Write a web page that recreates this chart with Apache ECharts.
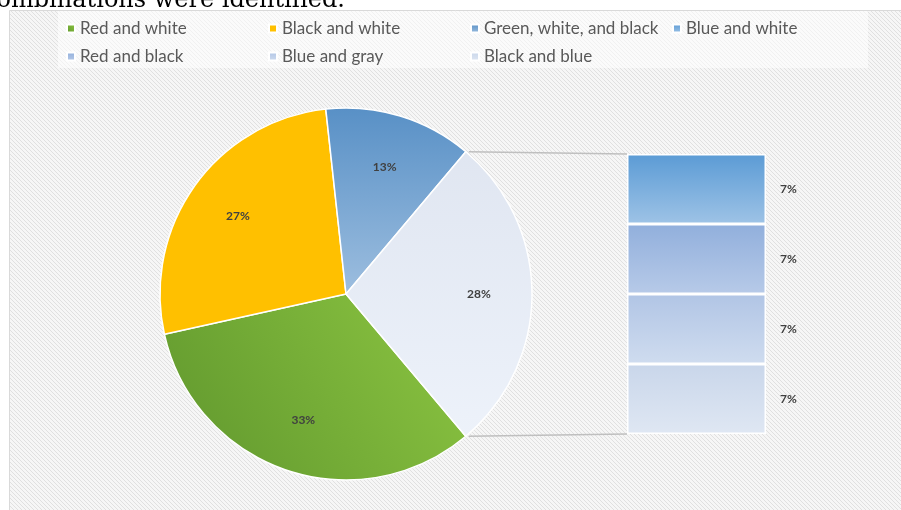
<!DOCTYPE html>
<html>
<head>
<meta charset="utf-8">
<script src="https://cdn.jsdelivr.net/npm/echarts@6/dist/echarts.min.js"></script>
<style>
  html, body { margin: 0; padding: 0; background: #fff; }
  #chart { width: 901px; height: 510px; }
</style>
</head>
<body>
<div id="chart"></div>
<script>
// Colour combinations: main pie plus the split-out "other" column
const legendNames = ['Red and white', 'Black and white', 'Green, white, and black', 'Blue and white',
                     'Red and black', 'Blue and gray', 'Black and blue'];
const pieNames = ['Red and white', 'Black and white', 'Green, white, and black', 'Other'];
const pieValues = [33, 27, 13, 28];
// column segments listed top to bottom
const barNames = ['Blue and white', 'Red and black', 'Blue and gray', 'Black and blue'];
const barValues = [7, 7, 7, 7];

const grad = (x, y, x2, y2, c1, c2) =>
  new echarts.graphic.LinearGradient(x, y, x2, y2, [{ offset: 0, color: c1 }, { offset: 1, color: c2 }]);

const pieColors = [
  grad(1, 0, 0, 1, '#8DC642', '#5F962D'),
  '#FFC000',
  grad(0, 0, 0, 1, '#5890C6', '#9DBEDF'),
  grad(0, 0, 0, 1, '#E0E6F1', '#EDF2FA')
];
const barColors = [
  grad(0, 0, 0, 1, '#5B9BD5', '#9EC3E6'),
  grad(0, 0, 0, 1, '#91AFDC', '#B7CAE8'),
  grad(0, 0, 0, 1, '#B1C5E5', '#CFDCEF'),
  grad(0, 0, 0, 1, '#C9D6EA', '#DFE7F3')
];

const pieCenter = [346, 294];
const pieRadius = 186;
const barGrid = { left: 627, top: 154, width: 139, height: 280 };

const pieTotal = pieValues.reduce((a, b) => a + b, 0);
const otherHalf = pieValues[3] / pieTotal * 180;   // "Other" slice is centred at 3 o'clock
const startAngle = -otherHalf;
const barTotal = barValues.reduce((a, b) => a + b, 0);

// hatched fill for the chart area
const tile = document.createElement('canvas');
tile.width = 4; tile.height = 4;
const tctx = tile.getContext('2d');
tctx.fillStyle = '#F6F6F6';
tctx.fillRect(0, 0, 4, 4);
tctx.fillStyle = '#E0E0E0';
for (let i = 0; i < 4; i++) tctx.fillRect(i, i, 1, 1);

const chart = echarts.init(document.getElementById('chart'), null, { renderer: 'canvas' });

const pieData = pieNames.map((n, i) => ({ name: n, value: pieValues[i], itemStyle: { color: pieColors[i] } }));

// stack from the bottom segment upward
const barSeries = barNames.slice().reverse().map((n) => {
  const i = barNames.indexOf(n);
  return {
    name: n,
    type: 'bar',
    stack: 'other',
    barWidth: '100%',
    data: [barValues[i]],
    itemStyle: { color: barColors[i], borderColor: '#fff', borderWidth: 1.5 },
    label: {
      show: true, position: 'right', distance: 14,
      formatter: '{c}%', color: '#404040', fontFamily: 'Lato', fontWeight: 'bold', fontSize: 12
    },
    emphasis: { disabled: true }
  };
});

const option = {
  backgroundColor: '#ffffff',
  animation: false,
  legend: {
    data: legendNames,
    left: 66, top: 17, width: 830,
    padding: 0,
    itemGap: 5,
    itemWidth: 8, itemHeight: 8,
    icon: 'rect',
    selectedMode: false,
    textStyle: { fontFamily: 'Lato', fontSize: 17, color: '#595959', width: 183, lineHeight: 23 }
  },
  grid: { left: barGrid.left, top: barGrid.top, width: barGrid.width, height: barGrid.height },
  xAxis: { type: 'category', data: ['Other'], show: false, boundaryGap: true },
  yAxis: { type: 'value', min: 0, max: barTotal, show: false },
  series: [
    {
      name: 'Colours',
      type: 'pie',
      center: pieCenter,
      radius: [0, pieRadius],
      startAngle: startAngle,
      clockwise: true,
      data: pieData,
      label: { show: false },
      labelLine: { show: false },
      itemStyle: { borderColor: '#fff', borderWidth: 1.5 },
      emphasis: { disabled: true }
    },
    {
      name: 'Percent labels',
      type: 'pie',
      center: pieCenter,
      radius: [0, 260],
      startAngle: startAngle,
      clockwise: true,
      silent: true,
      data: pieNames.map((n, i) => ({ name: n, value: pieValues[i] })),
      itemStyle: { color: 'rgba(0,0,0,0)' },
      label: {
        show: true, position: 'inside', formatter: '{c}%',
        color: '#404040', fontFamily: 'Lato', fontWeight: 'bold', fontSize: 12
      },
      labelLine: { show: false },
      emphasis: { disabled: true }
    },
    ...barSeries
  ]
};
chart.setOption(option);

// connector lines from the "Other" slice edges to the column corners
const rad = otherHalf * Math.PI / 180;
const pTop = [pieCenter[0] + pieRadius * Math.cos(rad), pieCenter[1] - pieRadius * Math.sin(rad)];
const pBot = [pieCenter[0] + pieRadius * Math.cos(rad), pieCenter[1] + pieRadius * Math.sin(rad)];
const yTop = chart.convertToPixel({ yAxisIndex: 0 }, barTotal);
const yBot = chart.convertToPixel({ yAxisIndex: 0 }, 0);

chart.setOption({
  graphic: [
    {
      type: 'rect', z: -10, silent: true,
      shape: { x: 9.5, y: 10.5, width: 900, height: 505 },
      style: { fill: { type: 'pattern', image: tile, repeat: 'repeat' }, stroke: '#D9D9D9', lineWidth: 1 }
    },
    {
      type: 'rect', z: -9, silent: true,
      shape: { x: 58, y: 11, width: 810, height: 57 },
      style: { fill: 'rgba(255,255,255,0.55)' }
    },
    {
      type: 'text', silent: true, z: 10,
      style: {
        x: 345, y: 1, text: 'combinations were identified.',
        font: '24px "DejaVu Serif"', fill: '#000', align: 'right', verticalAlign: 'middle'
      }
    },
    {
      type: 'line', silent: true, z: 5,
      shape: { x1: pTop[0] + 3, y1: pTop[1], x2: barGrid.left, y2: yTop },
      style: { stroke: '#BFBFBF', lineWidth: 1.5 }
    },
    {
      type: 'line', silent: true, z: 5,
      shape: { x1: pBot[0] + 3, y1: pBot[1], x2: barGrid.left, y2: yBot },
      style: { stroke: '#BFBFBF', lineWidth: 1.5 }
    }
  ]
});
</script>
</body>
</html>
